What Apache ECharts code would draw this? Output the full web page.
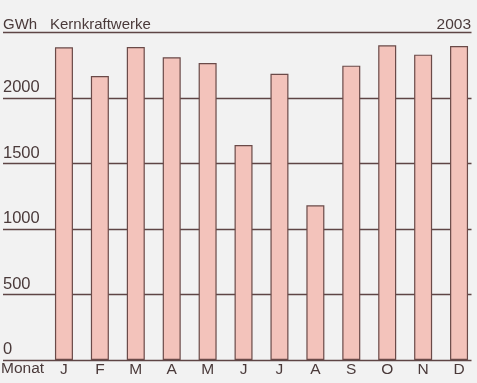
<!DOCTYPE html>
<html><head><meta charset="utf-8">
<script src="https://cdn.jsdelivr.net/npm/echarts@6/dist/echarts.min.js"></script>
<style>html,body{margin:0;padding:0;background:#f2f2f2;}#c{width:477px;height:383px;}</style>
</head><body><div id="c"></div>
<script>
const months = ['J','F','M','A','M','J','J','A','S','O','N','D'];
const values = [2387, 2168, 2389, 2311, 2267, 1641, 2185, 1181, 2247, 2402, 2331, 2397];
const yTicks = [0, 500, 1000, 1500, 2000, 2500];
const unitLabel = 'GWh';
const titleText = 'Kernkraftwerke';
const yearText = '2003';
const xName = 'Monat';

const FONT = 'Liberation Sans, Arial, sans-serif';
const TXT = '#4a3a3a';
const LINE = '#5e4545';

const chart = echarts.init(document.getElementById('c'));
chart.setOption({
  backgroundColor: '#f2f2f2',
  animation: false,
  title: [
    {text: unitLabel, left: 3, top: 17, padding: 0, textStyle: {fontFamily: FONT, fontSize: 15, fontWeight: 'normal', color: TXT}},
    {text: titleText, left: 50, top: 17, padding: 0, textStyle: {fontFamily: FONT, fontSize: 15, fontWeight: 'normal', color: TXT}},
    {text: yearText, right: 6, top: 17, padding: 0, textStyle: {fontFamily: FONT, fontSize: 15.5, fontWeight: 'normal', color: TXT}},
    {text: xName, left: 1, top: 361, padding: 0, textStyle: {fontFamily: FONT, fontSize: 15.5, fontWeight: 'normal', color: TXT}}
  ],
  grid: [
    {left: 46, width: 435, top: 32.5, bottom: 23},
    {left: 3, right: 5.5, top: 32.5, bottom: 23}
  ],
  xAxis: [
    {type: 'category', gridIndex: 0, data: months,
     axisLine: {show: false}, axisTick: {show: false},
     axisLabel: {margin: 2, fontFamily: FONT, fontSize: 15.5, color: TXT}},
    {type: 'value', gridIndex: 1, min: 0, max: 1, show: false}
  ],
  yAxis: [
    {type: 'value', gridIndex: 0, min: yTicks[0], max: yTicks[yTicks.length-1], interval: 500, show: false, splitLine: {show: false}},
    {type: 'value', gridIndex: 1, min: yTicks[0], max: yTicks[yTicks.length-1], interval: 500,
     axisLine: {show: false}, axisTick: {show: false},
     splitLine: {show: true, lineStyle: {color: LINE, width: 1.4}},
     axisLabel: {inside: true, margin: 0, verticalAlign: 'bottom', padding: [0,0,2,0],
       fontFamily: FONT, fontSize: 16.5, color: TXT,
       formatter: v => (v === 2500 ? '' : String(v))}}
  ],
  series: [{
    type: 'bar', xAxisIndex: 0, yAxisIndex: 0, data: values, barWidth: 18, z: 5,
    itemStyle: {color: '#f3c3bb', borderColor: '#6a4a48', borderWidth: 1.2}
  }]
});
</script></body></html>
